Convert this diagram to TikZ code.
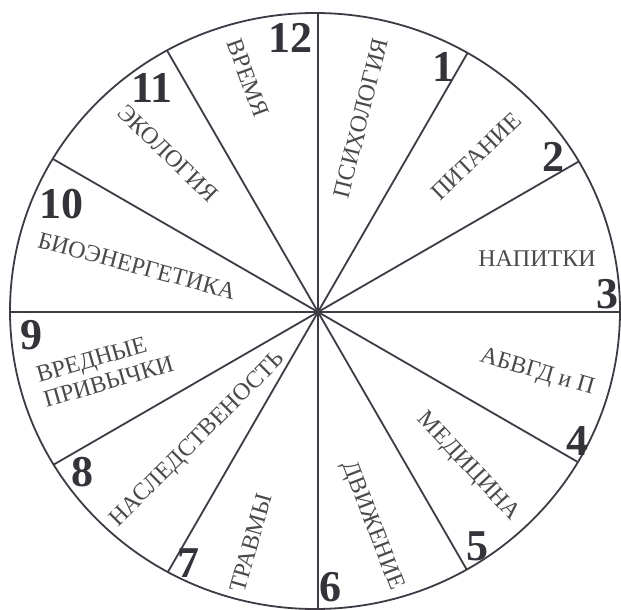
\documentclass[tikz,border=0pt]{standalone}
\usepackage{fontspec}
\setmainfont{Liberation Serif}
\begin{document}
\begin{tikzpicture}[x=1pt,y=1pt,
  rim/.style={draw=linecol,line width=1.8pt},
  spoke/.style={draw=linecol,line width=1.8pt},
  lab/.style={text=labcol,inner sep=0pt,font=\fontsize{24}{26}\selectfont},
  num/.style={text=numcol,inner sep=0pt,font=\fontsize{44}{44}\selectfont\bfseries}]
\definecolor{linecol}{HTML}{3E3B45}
\definecolor{labcol}{HTML}{4A4A4E}
\definecolor{numcol}{HTML}{35333A}
\useasboundingbox (0,0) rectangle (621,-610);
\fill[white] (0,0) rectangle (621,-610);
\coordinate (O) at (318,-312);
\begin{scope}
  \clip (315,-311) ellipse [x radius=305, y radius=298];
  \foreach \a in {0,30,...,330} {\draw[spoke] (O) -- ++(\a:420);}
\end{scope}
\draw[rim] (315,-311) ellipse [x radius=305, y radius=298];
% labels
\node[lab,rotate=76] (psy) at (361,-118) {ПСИХОЛОГИЯ};
\node[lab,rotate=44] (pit) at (476,-156) {ПИТАНИЕ};
\node[lab] (nap) at (537,-259) {НАПИТКИ};
\node[lab,rotate=-16] (abv) at (537,-373) {АБВГД и П};
\node[lab,rotate=-47] (med) at (468,-467) {МЕДИЦИНА};
\node[lab,rotate=-69] (dvi) at (372,-526) {ДВИЖЕНИЕ};
\node[lab,rotate=74] (tra) at (251,-543) {ТРАВМЫ};
\node[lab,rotate=45] (nas) at (198,-440) {НАСЛЕДСТВЕНОСТЬ};
\node[lab,rotate=16,align=left] (vre) at (105,-369) {ВРЕДНЫЕ\\ПРИВЫЧКИ};
\node[lab,rotate=-15] (bio) at (137,-266) {БИОЭНЕРГЕТИКА};
\node[lab,rotate=-44] (eko) at (168,-153) {ЭКОЛОГИЯ};
\node[lab,rotate=-70] (vrm) at (248,-78) {ВРЕМЯ};
% numbers
\node[num] (n12) at (290,-38) {12};
\node[num] (n1) at (443,-67) {1};
\node[num] (n2) at (553,-157) {2};
\node[num] (n3) at (607,-294) {3};
\node[num] (n4) at (577,-441) {4};
\node[num] (n5) at (477,-546) {5};
\node[num] (n6) at (330,-587) {6};
\node[num] (n7) at (188,-563) {7};
\node[num] (n8) at (82,-472) {8};
\node[num] (n9) at (31,-335) {9};
\node[num] (n10) at (61,-204) {10};
\node[num] (n11) at (152,-88) {11};
\end{tikzpicture}
\end{document}
